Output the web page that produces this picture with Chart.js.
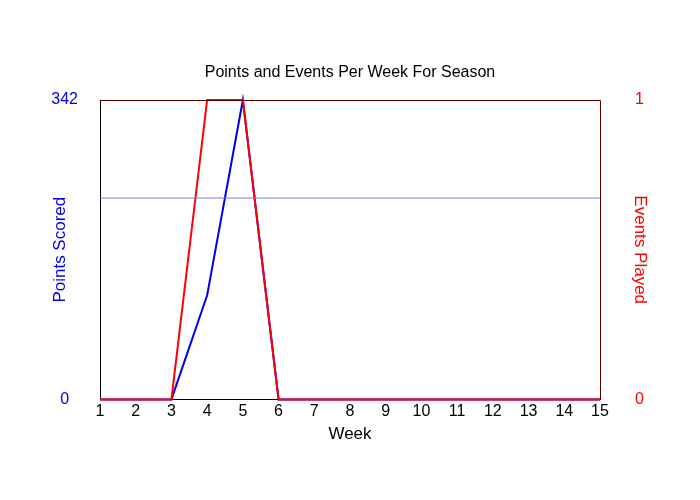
<!DOCTYPE html>
<html><head><script src="https://cdn.jsdelivr.net/npm/chart.js@4"></script>
<style>body{margin:0;background:#fff}</style></head>
<body><canvas id="c" width="700" height="500" style="width:700px;height:500px"></canvas>
<script>
const weeks=['1','2','3','4','5','6','7','8','9','10','11','12','13','14','15'];
const points=[0,0,0,119,342,0,0,0,0,0,0,0,0,0,0];
const events=[0,0,0,1,1,0,0,0,0,0,0,0,0,0,0];
const refLine=[230,230,230,230,230,230,230,230,230,230,230,230,230,230,230];
const font={family:'Liberation Sans, Arial',size:16};
const tfont={family:'Liberation Sans, Arial',size:17};
const frame={id:'frame',afterDatasetsDraw(ch){const a=ch.chartArea,c=ch.ctx;c.save();c.strokeStyle='#600000';c.lineWidth=1;c.beginPath();c.moveTo(a.left,a.top+0.5);c.lineTo(a.right+0.5,a.top+0.5);c.lineTo(a.right+0.5,a.bottom);c.stroke();
c.fillStyle='#000';c.font='16px Liberation Sans, Arial';c.textAlign='center';c.textBaseline='middle';c.fillText('Points and Events Per Week For Season',350,73);c.restore();}};
new Chart(document.getElementById('c'),{type:'line',data:{labels:weeks,datasets:[
{data:refLine,borderColor:'#7878e8',borderWidth:1,pointRadius:0,yAxisID:'y',clip:false},
{data:events,borderColor:'#ff0000',borderWidth:2,pointRadius:0,yAxisID:'y1',clip:false},
{data:points,borderColor:'#0000ee',borderWidth:2,pointRadius:0,yAxisID:'y',clip:false}]},
options:{responsive:false,animation:false,layout:{padding:{top:100,bottom:55,left:0,right:0}},
plugins:{legend:{display:false},tooltip:{enabled:false}},
scales:{
x:{offset:false,grid:{display:false,drawTicks:false},border:{color:'#000'},ticks:{color:'#000',font,padding:3,maxRotation:0,autoSkip:false},title:{display:true,text:'Week',color:'#000',font:tfont,padding:{top:0,bottom:0}}},
y:{min:0,max:342,afterBuildTicks(s){s.ticks=[{value:0},{value:342}]},afterFit(s){s.width=100},grid:{display:false,drawTicks:false},border:{color:'#000'},ticks:{color:'#0000ee',font,padding:22,crossAlign:'center'},title:{display:true,text:'Points Scored',color:'#0000ee',font:tfont,padding:{top:50,bottom:0}}},
y1:{position:'right',min:0,max:1,afterBuildTicks(s){s.ticks=[{value:0},{value:1}]},afterFit(s){s.width=100},grid:{display:false,drawTicks:false},border:{display:false},ticks:{color:'#ff0000',font,padding:35},title:{display:true,text:'Events Played',color:'#ff0000',font:tfont,padding:{top:50,bottom:0}}}
}},plugins:[frame]});
</script></body></html>
